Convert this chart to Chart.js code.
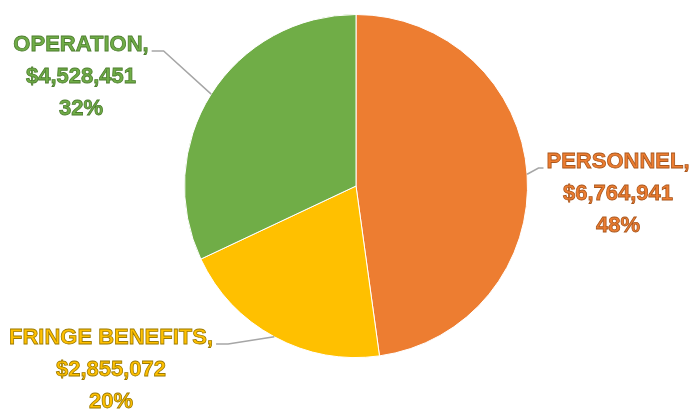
<!DOCTYPE html>
<html>
<head>
<meta charset="utf-8">
<script src="https://cdn.jsdelivr.net/npm/chart.js@4.4.1/dist/chart.umd.min.js"></script>
<style>
  html, body { margin: 0; padding: 0; background: #fff; }
  #wrap { width: 692px; height: 420px; }
</style>
</head>
<body>
<div id="wrap"><canvas id="budgetPie" width="692" height="420"></canvas></div>
<script>
// --- DATA ---
const categories = ['PERSONNEL', 'FRINGE BENEFITS', 'OPERATION'];
const amounts = [6764941, 2855072, 4528451];

// --- STYLE ---
const sliceColors = ['#ED7D31', '#FFC000', '#70AD47'];
const textOutline = ['#A9561C', '#9C7A00', '#4C7D2E'];
// label anchor (centre of first line) and which side the leader enters from
const labelLayout = [
    { x: 618, y: 162, side: 'left' },
    { x: 111, y: 338, side: 'right' },
    { x: 81, y: 45, side: 'right' }
];

const total = amounts.reduce((a, b) => a + b, 0);
const money = v => '$' + v.toLocaleString('en-US');

const calloutPlugin = {
    id: 'callouts',
    afterDraw(chart) {
        const ctx = chart.ctx;
        const arcs = chart.getDatasetMeta(0).data;
        ctx.save();
        ctx.font = 'bold 22px "Liberation Sans", Arial, sans-serif';
        ctx.textAlign = 'center';
        ctx.textBaseline = 'middle';
        arcs.forEach((arc, i) => {
            const p = arc.getProps(['x', 'y', 'startAngle', 'endAngle', 'outerRadius'], true);
            const mid = (p.startAngle + p.endAngle) / 2;
            const ax = p.x + Math.cos(mid) * p.outerRadius;
            const ay = p.y + Math.sin(mid) * p.outerRadius;
            const lay = labelLayout[i];
            const lines = [
                categories[i] + ',',
                money(amounts[i]),
                Math.round(amounts[i] / total * 100) + '%'
            ];
            const w = ctx.measureText(lines[0]).width;
            const ey = lay.y + 6;
            const ex = lay.side === 'left' ? lay.x - w / 2 - 3 : lay.x + w / 2 + 3;
            const elbow = lay.side === 'left' ? ex - 5 : ex + 12;

            // leader line
            ctx.strokeStyle = '#A6A6A6';
            ctx.lineWidth = 1.5;
            ctx.beginPath();
            ctx.moveTo(ax, ay);
            ctx.lineTo(elbow, ey);
            ctx.lineTo(ex, ey);
            ctx.stroke();

            // text
            lines.forEach((t, k) => {
                const ty = lay.y + k * 32;
                ctx.fillStyle = sliceColors[i];
                ctx.fillText(t, lay.x, ty);
                ctx.strokeStyle = textOutline[i];
                ctx.lineWidth = 0.8;
                ctx.strokeText(t, lay.x, ty);
            });
        });
        ctx.restore();
    }
};

new Chart(document.getElementById('budgetPie'), {
    type: 'pie',
    data: {
        labels: categories,
        datasets: [{
            data: amounts,
            backgroundColor: sliceColors,
            borderColor: '#ffffff',
            borderWidth: 1
        }]
    },
    options: {
        responsive: false,
        animation: false,
        layout: { padding: { top: 14, bottom: 62, left: 20, right: 0 } },
        plugins: { legend: { display: false }, tooltip: { enabled: false } }
    },
    plugins: [calloutPlugin]
});
</script>
</body>
</html>
